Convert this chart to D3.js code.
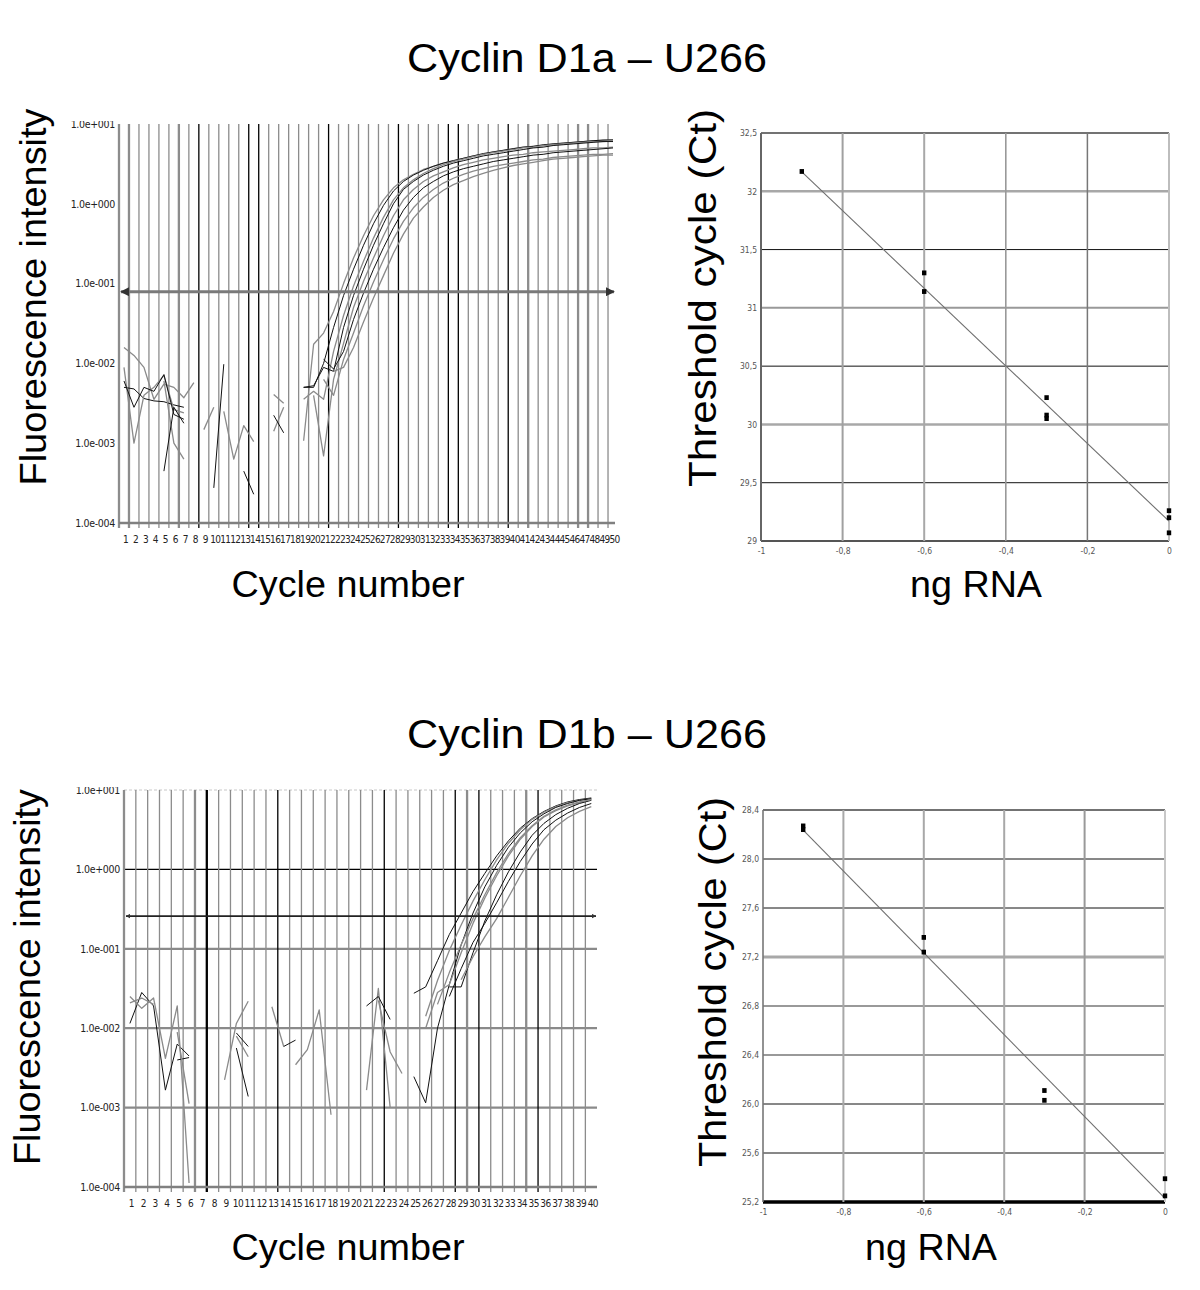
<!DOCTYPE html>
<html><head><meta charset="utf-8">
<script src="https://cdn.jsdelivr.net/npm/d3@7/dist/d3.min.js"></script>
<style>body{margin:0;background:#fff}svg{display:block}</style>
</head><body>
<svg id="chart" width="1200" height="1290"></svg>
<script>
// ================= DATA =================
const titleTop = "Cyclin D1a \u2013 U266";
const titleBottom = "Cyclin D1b \u2013 U266";
const ampYLabel = "Fluorescence intensity";
const ampXLabel = "Cycle number";
const stdYLabel = "Threshold cycle (Ct)";
const stdXLabel = "ng RNA";

const ampTickValues = [1e1, 1e0, 1e-1, 1e-2, 1e-3, 1e-4];
const ampTickLabels = ["1.0e+001", "1.0e+000", "1.0e-001", "1.0e-002", "1.0e-003", "1.0e-004"];
const tlCycles = d3.range(1, 51);
const blCycles = d3.range(1, 41);
const tlThreshold = 0.079;
const blThreshold = 0.258;

// Top-left amplification curves (log10 fluorescence, one value per cycle from start)
const tlAmpStarts = [19, 19, 19, 19, 20, 21, 21, 22];
const tlAmpShades = ["gray", "black", "gray", "black", "gray", "black", "gray", "gray"];
const tlAmp1 = [-2.97, -1.76, -1.62, -1.35, -1.00, -0.68, -0.40, -0.15, 0.05, 0.20, 0.30, 0.37, 0.43, 0.47, 0.51, 0.54, 0.57, 0.60, 0.62, 0.65, 0.67, 0.69, 0.71, 0.72, 0.73, 0.75, 0.76, 0.77, 0.78, 0.79, 0.79, 0.80];
const tlAmp2 = [-2.30, -2.30, -2.00, -1.55, -1.15, -0.82, -0.52, -0.25, -0.02, 0.16, 0.28, 0.36, 0.42, 0.47, 0.51, 0.54, 0.57, 0.60, 0.63, 0.65, 0.67, 0.69, 0.71, 0.72, 0.74, 0.75, 0.76, 0.77, 0.78, 0.79, 0.80, 0.80];
const tlAmp3 = [-2.45, -2.35, -2.45, -1.85, -1.40, -1.03, -0.72, -0.43, -0.17, 0.05, 0.20, 0.30, 0.38, 0.44, 0.49, 0.53, 0.56, 0.59, 0.62, 0.64, 0.66, 0.68, 0.70, 0.71, 0.73, 0.74, 0.75, 0.76, 0.77, 0.78, 0.78, 0.79];
const tlAmp4 = [-2.30, -2.28, -2.05, -2.10, -1.55, -1.15, -0.82, -0.52, -0.25, 0.00, 0.18, 0.28, 0.36, 0.42, 0.47, 0.51, 0.54, 0.57, 0.60, 0.62, 0.64, 0.66, 0.68, 0.70, 0.71, 0.73, 0.74, 0.75, 0.76, 0.77, 0.78, 0.78];
const tlAmp5 = [-2.40, -3.16, -2.20, -1.75, -1.30, -0.97, -0.68, -0.40, -0.15, 0.05, 0.18, 0.28, 0.35, 0.40, 0.45, 0.49, 0.52, 0.55, 0.57, 0.59, 0.61, 0.62, 0.64, 0.65, 0.66, 0.67, 0.68, 0.69, 0.70, 0.70, 0.71];
const tlAmp6 = [-1.95, -2.07, -1.85, -1.45, -1.12, -0.82, -0.55, -0.30, -0.08, 0.08, 0.20, 0.28, 0.35, 0.40, 0.44, 0.47, 0.50, 0.53, 0.55, 0.57, 0.59, 0.61, 0.62, 0.64, 0.65, 0.66, 0.67, 0.68, 0.69, 0.70];
const tlAmp7 = [-2.20, -2.40, -1.95, -1.62, -1.28, -0.98, -0.70, -0.44, -0.22, -0.05, 0.08, 0.18, 0.26, 0.32, 0.37, 0.41, 0.44, 0.47, 0.49, 0.51, 0.53, 0.55, 0.56, 0.58, 0.59, 0.60, 0.61, 0.62, 0.62, 0.63];
const tlAmp8 = [-2.10, -2.05, -1.80, -1.48, -1.18, -0.90, -0.62, -0.38, -0.18, -0.04, 0.08, 0.17, 0.24, 0.29, 0.34, 0.38, 0.42, 0.45, 0.48, 0.50, 0.52, 0.54, 0.56, 0.57, 0.58, 0.59, 0.60, 0.61, 0.61];
const tlAmp = [tlAmp1, tlAmp2, tlAmp3, tlAmp4, tlAmp5, tlAmp6, tlAmp7, tlAmp8];

// Top-left baseline noise fragments
const tlNoiseStarts = [1, 1, 1, 1, 5, 5, 9, 10, 11, 13, 16, 16, 16];
const tlNoiseShades = ["gray", "black", "gray", "black", "gray", "black", "gray", "black", "gray", "black", "gray", "gray", "black"];
const tlNoise = [
  [-1.80, -1.90, -2.05, -2.45, -2.26, -2.30, -2.43, -2.24],
  [-2.30, -2.32, -2.44, -2.47, -2.48, -2.52, -2.55],
  [-2.05, -3.00, -2.40, -2.30, -2.15, -2.58, -2.62],
  [-2.22, -2.55, -2.30, -2.35, -2.14, -2.64, -2.70],
  [-2.22, -3.00, -3.20],
  [-3.35, -2.55, -2.75],
  [-2.83, -2.55],
  [-3.56, -2.01],
  [-2.60, -3.20, -2.78, -2.98],
  [-3.35, -3.64],
  [-2.39, -2.50],
  [-2.85, -2.55],
  [-2.65, -2.87]
];

// Bottom-left amplification curves
const blAmpStarts = [25, 26, 25, 26, 28, 29, 27, 28];
const blAmpShades = ["black", "gray", "black", "gray", "black", "gray", "gray", "black"];
const blAmp1 = [-1.56, -1.48, -1.15, -0.82, -0.55, -0.28, -0.05, 0.17, 0.36, 0.52, 0.64, 0.73, 0.80, 0.85, 0.88, 0.90];
const blAmp2 = [-1.85, -1.40, -1.02, -0.70, -0.40, -0.13, 0.12, 0.33, 0.50, 0.63, 0.72, 0.79, 0.84, 0.87, 0.89];
const blAmp3 = [-2.61, -2.94, -2.00, -1.45, -0.95, -0.55, -0.22, 0.05, 0.28, 0.46, 0.60, 0.70, 0.78, 0.83, 0.87, 0.89];
const blAmp4 = [-2.00, -1.55, -1.45, -1.05, -0.68, -0.36, -0.08, 0.17, 0.38, 0.54, 0.66, 0.74, 0.80, 0.84, 0.88];
const blAmp5 = [-1.48, -1.48, -1.05, -0.65, -0.32, -0.03, 0.22, 0.43, 0.58, 0.69, 0.77, 0.83, 0.87];
const blAmp6 = [-1.39, -1.10, -0.85, -0.62, -0.35, -0.08, 0.17, 0.38, 0.54, 0.65, 0.73, 0.79];
const blAmp7 = [-1.70, -1.30, -0.95, -0.62, -0.32, -0.04, 0.20, 0.40, 0.55, 0.67, 0.75, 0.81, 0.85, 0.88];
const blAmp8 = [-1.60, -1.25, -0.92, -0.68, -0.42, -0.15, 0.10, 0.32, 0.50, 0.62, 0.71, 0.78, 0.83];
const blAmp = [blAmp1, blAmp2, blAmp3, blAmp4, blAmp5, blAmp6, blAmp7, blAmp8];

// Bottom-left baseline noise fragments
const blNoiseStarts = [1, 1, 1, 5, 5, 9, 10, 10, 10, 13, 14, 15, 21, 21, 22];
const blNoiseShades = ["black", "gray", "gray", "black", "gray", "gray", "black", "gray", "black", "gray", "black", "gray", "gray", "black", "gray"];
const blNoise = [
  [-1.94, -1.55, -1.72, -2.78, -2.20, -2.35],
  [-1.60, -1.75, -1.62, -2.38, -1.72, -3.95],
  [-1.68, -1.62, -1.70],
  [-2.40, -2.37],
  [-2.05, -2.95],
  [-2.65, -1.94, -1.66],
  [-2.06, -2.23],
  [-2.10, -2.36],
  [-2.25, -2.86],
  [-1.73, -2.23],
  [-2.23, -2.15],
  [-2.46, -2.27, -1.77, -3.09],
  [-2.78, -1.50, -3.00],
  [-1.72, -1.60, -1.89],
  [-1.65, -2.30, -2.57]
];

// Standard curves
const stdXTicks = [-1, -0.8, -0.6, -0.4, -0.2, 0];
const stdXTickLabels = ["-1", "-0,8", "-0,6", "-0,4", "-0,2", "0"];
const trYTicks = [29, 29.5, 30, 30.5, 31, 31.5, 32, 32.5];
const trYTickLabels = ["29", "29,5", "30", "30,5", "31", "31,5", "32", "32,5"];
const trLogRNA = [-0.9, -0.6, -0.6, -0.3, -0.3, -0.3, 0, 0, 0];
const trCt = [32.17, 31.30, 31.14, 30.23, 30.08, 30.05, 29.26, 29.20, 29.07];
const trFit = { slope: -3.33, intercept: 29.17, from: -0.9, to: 0 };

const brYTicks = [25.2, 25.6, 26.0, 26.4, 26.8, 27.2, 27.6, 28.0, 28.4];
const brYTickLabels = ["25,2", "25,6", "26,0", "26,4", "26,8", "27,2", "27,6", "28,0", "28,4"];
const brLogRNA = [-0.9, -0.9, -0.6, -0.6, -0.3, -0.3, 0, 0];
const brCt = [28.27, 28.24, 27.36, 27.24, 26.11, 26.03, 25.39, 25.25];
const brFit = { slope: -3.34, intercept: 25.23, from: -0.9, to: 0 };

// ================= DRAWING =================
const svg = d3.select("#chart");
const FONT = "'Liberation Sans', Arial, Helvetica, sans-serif";
const TICKFONT = "'Liberation Sans Narrow', 'DejaVu Sans Condensed', 'Liberation Sans', Arial, sans-serif";
const SHADE = { black: "#111", gray: "#8a8a8a" };
const SHADEW = { black: 1.0, gray: 1.3 };

const defs = svg.append("defs");
defs.append("marker").attr("id", "arr").attr("viewBox", "0 0 10 10")
  .attr("refX", 9).attr("refY", 5).attr("markerWidth", 3).attr("markerHeight", 3)
  .attr("orient", "auto-start-reverse").attr("markerUnits", "strokeWidth")
  .append("path").attr("d", "M0,0L10,5L0,10z").attr("fill", "#333");

function bigText(x, y, str, size, len, rotate) {
  const t = svg.append("text").text(str)
    .attr("font-family", FONT).attr("font-size", size).attr("fill", "#000")
    .attr("text-anchor", "middle")
    .attr("textLength", len).attr("lengthAdjust", "spacingAndGlyphs");
  if (rotate) t.attr("transform", `translate(${x},${y}) rotate(-90)`);
  else t.attr("x", x).attr("y", y);
  return t;
}

function drawAmp(cfg) {
  const g = svg.append("g");
  const x = d3.scaleLinear().domain([0.5, cfg.n + 0.5]).range([cfg.left, cfg.left + cfg.cell * cfg.n]);
  const y = d3.scaleLog().domain([1e-4, 1e1]).range([cfg.bottom, cfg.top]);
  const clipId = "clip" + cfg.id;
  defs.append("clipPath").attr("id", clipId).append("rect")
    .attr("x", cfg.left).attr("y", cfg.top).attr("width", cfg.right - cfg.left).attr("height", cfg.bottom - cfg.top);

  // horizontal grid
  if (cfg.hgrid) {
    g.selectAll(null).data(ampTickValues).join("line")
      .attr("x1", cfg.left).attr("x2", cfg.right)
      .attr("y1", d => y(d)).attr("y2", d => y(d))
      .attr("stroke", (d, i) => i === 0 ? "#c8c8c8" : (i === 1 ? "#000" : "#8a8a8a"))
      .attr("stroke-width", (d, i) => i === 0 ? 1 : (i === 1 ? 1.2 : 2.2))
      .attr("stroke-dasharray", (d, i) => i === 0 ? "3,2" : null);
  }
  // vertical grid
  const bounds = d3.range(0, cfg.n).map(k => k + 0.5);
  g.selectAll(null).data(bounds).join("line")
    .attr("x1", d => x(d)).attr("x2", d => x(d))
    .attr("y1", cfg.top).attr("y2", cfg.bottom + 5)
    .attr("stroke", (d, i) => cfg.dark.includes(i) ? "#000" : "#8c8c8c")
    .attr("stroke-width", (d, i) => cfg.thick.includes(i) ? 2.3 : (cfg.dark.includes(i) ? 1.3 : 1.3));
  // bottom axis line
  g.append("line").attr("x1", cfg.left).attr("x2", cfg.right)
    .attr("y1", cfg.bottom).attr("y2", cfg.bottom)
    .attr("stroke", "#808080").attr("stroke-width", 2.4);

  // y tick labels (top label partly clipped as in the original)
  const topClip = "tclip" + cfg.id;
  defs.append("clipPath").attr("id", topClip).append("rect")
    .attr("x", 0).attr("y", cfg.top - 3).attr("width", cfg.left).attr("height", cfg.bottom - cfg.top + 20);
  const yWrap = g.append("g").attr("clip-path", `url(#${topClip})`);
  const ya = yWrap.append("g").attr("transform", `translate(${cfg.left - 4},0)`)
    .call(d3.axisLeft(y).tickValues(ampTickValues).tickSize(0).tickPadding(0)
      .tickFormat((d, i) => ampTickLabels[i]));
  ya.select(".domain").remove();
  ya.selectAll("text").attr("font-family", TICKFONT).attr("font-size", 10.5).attr("fill", "#222")
    .attr("letter-spacing", "-0.3px");

  // x tick labels
  const xa = g.append("g").attr("transform", `translate(1,${cfg.bottom + 13})`)
    .call(d3.axisBottom(x).tickValues(cfg.cycles).tickSize(0).tickPadding(0).tickFormat(d3.format("d")));
  xa.select(".domain").remove();
  xa.selectAll("text").attr("font-family", TICKFONT).attr("font-size", 10).attr("fill", "#222")
    .attr("letter-spacing", "-0.6px");

  // curves
  const line = d3.line().x(d => x(d.c)).y(d => y(Math.pow(10, d.v)));
  const cg = g.append("g").attr("clip-path", `url(#${clipId})`);
  function series(arrs, starts, shades) {
    arrs.forEach((arr, k) => {
      const pts = arr.map((v, i) => ({ c: starts[k] + i, v }));
      cg.append("path").attr("d", line(pts)).attr("fill", "none")
        .attr("stroke", SHADE[shades[k]]).attr("stroke-width", SHADEW[shades[k]])
        .attr("stroke-linejoin", "round");
    });
  }
  series(cfg.noise, cfg.noiseStarts, cfg.noiseShades);
  series(cfg.amp, cfg.ampStarts, cfg.ampShades);

  // threshold
  const ty = y(cfg.threshold);
  g.append("line").attr("x1", cfg.left + 2).attr("x2", cfg.right - 1)
    .attr("y1", ty).attr("y2", ty)
    .attr("stroke", cfg.thColor).attr("stroke-width", cfg.thWidth)
    .attr("marker-start", "url(#arr)").attr("marker-end", "url(#arr)");
}

function drawStd(cfg) {
  const g = svg.append("g");
  const x = d3.scaleLinear().domain([-1, 0]).range([cfg.left, cfg.right]);
  const y = d3.scaleLinear().domain([cfg.yTicks[0], cfg.yTicks[cfg.yTicks.length - 1]]).range([cfg.bottom, cfg.top]);
  g.selectAll(null).data(cfg.yTicks).join("line")
    .attr("x1", cfg.left).attr("x2", cfg.right)
    .attr("y1", d => y(d)).attr("y2", d => y(d))
    .attr("stroke", (d, i) => cfg.hStyle[i][0]).attr("stroke-width", (d, i) => cfg.hStyle[i][1]);
  g.selectAll(null).data(stdXTicks).join("line")
    .attr("x1", d => x(d)).attr("x2", d => x(d))
    .attr("y1", cfg.top).attr("y2", cfg.bottom)
    .attr("stroke", (d, i) => cfg.vStyle[i][0]).attr("stroke-width", (d, i) => cfg.vStyle[i][1]);

  const ya = g.append("g").attr("transform", `translate(${cfg.left - 4},0)`)
    .call(d3.axisLeft(y).tickValues(cfg.yTicks).tickSize(0).tickPadding(0)
      .tickFormat((d, i) => cfg.yLabels[i]));
  ya.select(".domain").remove();
  ya.selectAll("text").attr("font-family", TICKFONT).attr("font-size", 8.5).attr("fill", "#555");
  const xa = g.append("g").attr("transform", `translate(0,${cfg.bottom + 7})`)
    .call(d3.axisBottom(x).tickValues(stdXTicks).tickSize(0).tickPadding(0)
      .tickFormat((d, i) => stdXTickLabels[i]));
  xa.select(".domain").remove();
  xa.selectAll("text").attr("font-family", TICKFONT).attr("font-size", 8.5).attr("fill", "#555");

  // fit line
  const fx = [cfg.fit.from, cfg.fit.to];
  g.append("line")
    .attr("x1", x(fx[0])).attr("y1", y(cfg.fit.intercept + cfg.fit.slope * fx[0]))
    .attr("x2", x(fx[1])).attr("y2", y(cfg.fit.intercept + cfg.fit.slope * fx[1]))
    .attr("stroke", "#6f6f6f").attr("stroke-width", 1.1);
  // points
  g.selectAll(null).data(cfg.xs.map((v, i) => [v, cfg.ys[i]])).join("rect")
    .attr("x", d => x(d[0]) - 2.2).attr("y", d => y(d[1]) - 2.4)
    .attr("width", 4.4).attr("height", 4.8).attr("fill", "#000");
}

// ---- Titles ----
bigText(587, 72, titleTop, 41, 360);
bigText(587, 748, titleBottom, 41, 360);

// ---- Top-left ----
drawAmp({
  id: "tl", n: 50, cell: 9.98, left: 119, right: 615, top: 124, bottom: 523,
  cycles: tlCycles, hgrid: false,
  dark: [8, 13, 14, 21, 28, 33, 34, 39], thick: [0, 1, 6, 41, 46, 47],
  amp: tlAmp, ampStarts: tlAmpStarts, ampShades: tlAmpShades,
  noise: tlNoise, noiseStarts: tlNoiseStarts, noiseShades: tlNoiseShades,
  threshold: tlThreshold, thColor: "#7a7a7a", thWidth: 3
});
bigText(46, 297, ampYLabel, 37, 377, true);
bigText(348, 597, ampXLabel, 37, 233);

// ---- Top-right ----
drawStd({
  left: 761, right: 1169, top: 133, bottom: 541,
  yTicks: trYTicks, yLabels: trYTickLabels,
  hStyle: [["#555", 2], ["#111", 1], ["#a8a8a8", 2.5], ["#111", 1], ["#999", 2], ["#111", 1], ["#a8a8a8", 2.5], ["#444", 1.5]],
  vStyle: [["#666", 2], ["#a0a0a0", 2], ["#a8a8a8", 2], ["#999", 1.6], ["#777", 1.5], ["#bdbdbd", 2]],
  xs: trLogRNA, ys: trCt, fit: trFit
});
bigText(716, 298, stdYLabel, 39, 378, true);
bigText(976, 597, stdXLabel, 37, 132);

// ---- Bottom-left ----
drawAmp({
  id: "bl", n: 40, cell: 11.83, left: 124, right: 597, top: 790, bottom: 1187,
  cycles: blCycles, hgrid: true,
  dark: [7, 13, 22, 28, 30, 35], thick: [0, 6, 7, 29, 34],
  amp: blAmp, ampStarts: blAmpStarts, ampShades: blAmpShades,
  noise: blNoise, noiseStarts: blNoiseStarts, noiseShades: blNoiseShades,
  threshold: blThreshold, thColor: "#222", thWidth: 1.6
});
bigText(40, 977, ampYLabel, 37, 376, true);
bigText(348, 1260, ampXLabel, 37, 233);

// ---- Bottom-right ----
drawStd({
  left: 763, right: 1165, top: 810, bottom: 1202,
  yTicks: brYTicks, yLabels: brYTickLabels,
  hStyle: [["#000", 3.5], ["#111", 1], ["#111", 1], ["#999", 2], ["#999", 2], ["#a8a8a8", 3], ["#111", 1], ["#111", 1], ["#444", 1.5]],
  vStyle: [["#777", 1.6], ["#a8a8a8", 2], ["#a8a8a8", 2], ["#a8a8a8", 2], ["#999", 2], ["#c8c8c8", 2]],
  xs: brLogRNA, ys: brCt, fit: brFit
});
bigText(726, 982, stdYLabel, 39, 370, true);
bigText(931, 1260, stdXLabel, 37, 132);
</script>
</body></html>
